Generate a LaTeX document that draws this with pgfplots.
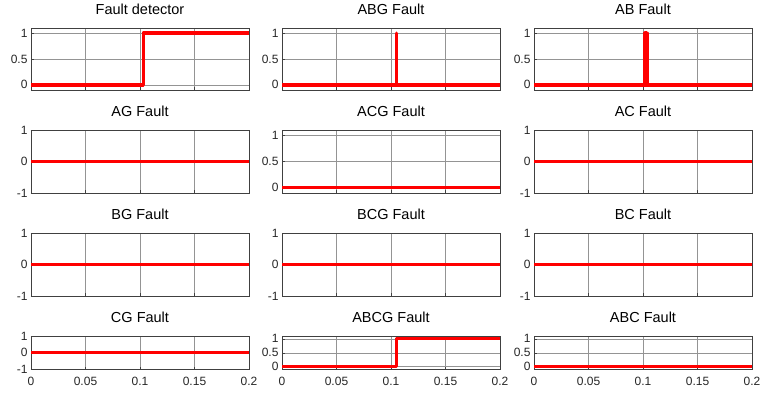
\documentclass[border=0pt]{standalone}
\usepackage{fontspec}
\setmainfont{Liberation Sans}
\usepackage{pgfplots}
\pgfplotsset{compat=1.18}
\tikzset{fl/.style={red, line width=3.4pt, line join=round, mark=none}}
\pgfplotsset{
  panel/.style={
    scale only axis, width=218pt,
    xmin=0, xmax=0.2,
    xtick={0,0.05,0.1,0.15,0.2}, xticklabels={},
    grid=major,
    major grid style={black!42, line width=0.5pt},
    axis line style={black!75, line width=0.6pt},
    tick style={black!75, line width=0.5pt},
    tick align=inside, major tick length=3pt,
    xtick pos=bottom, ytick pos=left,
    ticklabel style={font=\fontsize{12}{12}\selectfont, text=black!85},
    xticklabel style={yshift=-4pt},
    title style={font=\fontsize{14.5}{15}\selectfont, anchor=base, at={(0.5,1)}, yshift=8pt},
    /pgf/number format/assume math mode=true,
  },
  unit/.style={ymin=-0.1, ymax=1.1, ytick={0,0.5,1}, yticklabels={0,0.5,1}},
  sym/.style={ymin=-1, ymax=1, ytick={-1,0,1}, yticklabels={-1,0,1}},
  bottomrow/.style={xticklabels={0,0.05,0.1,0.15,0.2}},
}
\begin{document}
\begin{tikzpicture}
\path[use as bounding box] (0pt,0pt) rectangle (774pt,-392pt);
% ---------- Row 1 ----------
\begin{axis}[panel, unit, height=62pt, at={(31pt,-28pt)}, anchor=north west, title={Fault detector}]
\addplot[fl] coordinates {(0,0) (0.103,0) (0.103,1) (0.2,1)};
\end{axis}
\begin{axis}[panel, unit, height=62pt, at={(282pt,-28pt)}, anchor=north west, title={ABG Fault}]
\addplot[fl] coordinates {(0,0) (0.105,0) (0.105,1) (0.105,0) (0.2,0)};
\end{axis}
\begin{axis}[panel, unit, height=62pt, at={(534pt,-28pt)}, anchor=north west, title={AB Fault}]
\addplot[fl] coordinates {(0,0) (0.1018,0) (0.1018,1) (0.1022,1) (0.1022,0) (0.1027,0) (0.1027,1) (0.1031,1) (0.1031,0) (0.1036,0) (0.1036,1) (0.1036,0) (0.2,0)};
\end{axis}
% ---------- Row 2 ----------
\begin{axis}[panel, sym, height=63pt, at={(31pt,-130pt)}, anchor=north west, title={AG Fault}]
\addplot[fl] coordinates {(0,0) (0.2,0)};
\end{axis}
\begin{axis}[panel, unit, height=63pt, at={(282pt,-130pt)}, anchor=north west, title={ACG Fault}]
\addplot[fl] coordinates {(0,0) (0.2,0)};
\end{axis}
\begin{axis}[panel, sym, height=63pt, at={(534pt,-130pt)}, anchor=north west, title={AC Fault}]
\addplot[fl] coordinates {(0,0) (0.2,0)};
\end{axis}
% ---------- Row 3 ----------
\begin{axis}[panel, sym, height=63pt, at={(31pt,-233pt)}, anchor=north west, title={BG Fault}]
\addplot[fl] coordinates {(0,0) (0.2,0)};
\end{axis}
\begin{axis}[panel, sym, height=63pt, at={(282pt,-233pt)}, anchor=north west, title={BCG Fault}]
\addplot[fl] coordinates {(0,0) (0.2,0)};
\end{axis}
\begin{axis}[panel, sym, height=63pt, at={(534pt,-233pt)}, anchor=north west, title={BC Fault}]
\addplot[fl] coordinates {(0,0) (0.2,0)};
\end{axis}
% ---------- Row 4 ----------
\begin{axis}[panel, sym, bottomrow, height=33.5pt, at={(31pt,-336pt)}, anchor=north west, title={CG Fault}]
\addplot[fl] coordinates {(0,0) (0.2,0)};
\end{axis}
\begin{axis}[panel, unit, bottomrow, height=33.5pt, at={(282pt,-336pt)}, anchor=north west, title={ABCG Fault}]
\addplot[fl] coordinates {(0,0) (0.105,0) (0.105,1) (0.2,1)};
\end{axis}
\begin{axis}[panel, unit, bottomrow, height=33.5pt, at={(534pt,-336pt)}, anchor=north west, title={ABC Fault}]
\addplot[fl] coordinates {(0,0) (0.2,0)};
\end{axis}
\end{tikzpicture}
\end{document}
